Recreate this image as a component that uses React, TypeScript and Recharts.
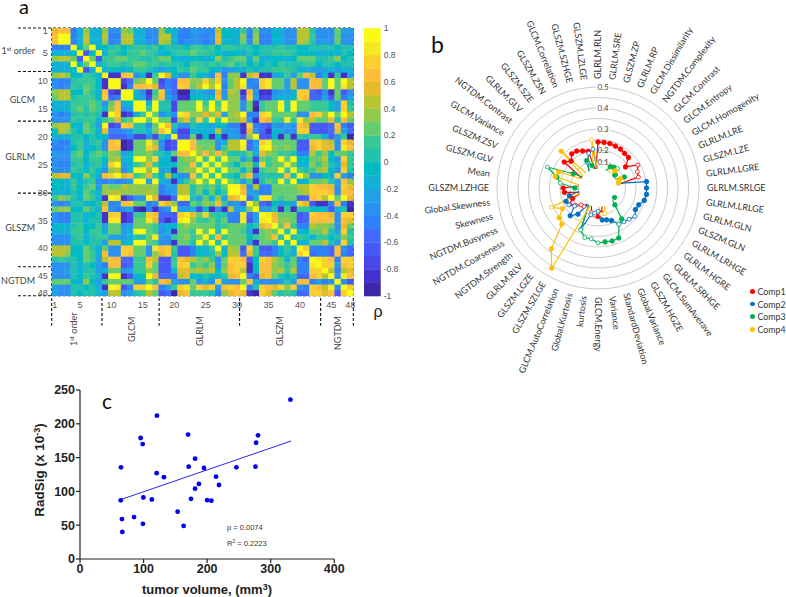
import React from 'react';
import {
  Legend,
  PolarAngleAxis,
  PolarGrid,
  PolarRadiusAxis,
  Radar,
  RadarChart,
  ReferenceLine,
  Scatter,
  ScatterChart,
  XAxis,
  YAxis,
} from 'recharts';

// panel a: upper triangle of the correlation matrix, each row starts on the diagonal.
// one character per cell, index into LEVEL_CODES (colour step of the bar, -1 to 1)
const corrRows = [
  'fgg58d88 d66dc8866 d98657666e998 b6c668866eea6 66c77',
  'jj58e88 e55ee8856 ee8556656f998 d5d559866eeb6 66c66',
  'j58e88 d56ee8866 ed8566656f888 c6d558866eda6 76c66',
  'j9cj9 9ab9abbab 9aaa9bbab9bba aa9aaabaa99aa aa9aa',
  'j39j 8ba9bbcba 89abbcbba9899 8a9aabbba9998 898a9',
  'jc3 bbccbbaab cc9889989dabc c8c889989ccca abd9a',
  'j8 abbabccbb abaa9bbababca b9a9a9baaabb9 aa9aa',
  'j 89989bba8 789bacbb98678 8a8aabbba8877 78788',
  'j11gh681b jf966b986g5dd 1eg1178b7cge5 81b17',
  'jj24cdjc 254ggddhdh6ce j56hicc7e66gg cjcje',
  'j15gghf 354hgcejej5ce i65hicc7e66gg cjcie',
  'jj861b h64007876f6ed 1g6116778hh43 61c36',
  'j972c g75119989g7dd 3h7227889hg44 73c57',
  'jj8j aa2cccjbjbjdd 6c1bccjajccbb b97ha',
  'jbj aa2cccjcjcjdd 6c0bccjajccbb b97hb',
  'jc 686ihddfdf7de j55hicccc66gh djcje',
  'j cc2dfbhbjbjdd f61gfbbibidec cfagc',
  'jga66a8979855 1h5437676gf33 34g53',
  'j7228988e776 1f6418866hh33 34f74',
  'j33c1919177 4dj3391b1babb 847b0',
  'jjgccc68ee j47hicccc33gh fe6hf',
  'jgdcd6bee i47ijdcdc33fh ff6ig',
  'jdgdgdaa ac8fdcbba55eb d9ccb',
  'jbjbjcc 7b2cbcjcj99cc e96hb',
  'jcjcb9 cd9hbccic88db da8fb',
  'jbjcc 8c1bccjbjbabd e96ha',
  'jba9 dg6aaaagajd66 98h75',
  'jcb 7b1acbjbj89cc da7gd',
  'jj f6e55cccceehg gf6hf',
  'j g7755ccccdehh hg6gg',
  'j48iicbcc34gh ejcjf',
  'jd439797hf31 15g51',
  'j77a1b1bb99 938a0',
  'jifccc34hg gf6hh',
  'jgddc34gg gg6gf',
  'jcgb55ed dc6fc',
  'jaj89cc ea7ha',
  'jaba8b b9adb',
  'j88cc ea7ha',
  'jh55 54g64',
  'j45 54g54',
  'ji hg5hh',
  'j hh7gh',
  'je5ef',
  'j6ig',
  'j63',
  'jh',
  'j',
];

const LEVEL_CODES = '0123456789abcdefghij';
const LEVEL_COLORS = [
  '#3e26a8', '#4332cb', '#4747eb', '#4758f8', '#4269fe',
  '#2f81fa', '#2b91f1', '#23a0e5', '#12b1d6', '#02bac3',
  '#24c1ae', '#37c897', '#64cd6f', '#8fca4e', '#b9c431',
  '#e6bb2d', '#febe3c', '#fccf30', '#f5e924', '#f9fb15',
];
const matrixTicks = [1, 5, 10, 15, 20, 25, 30, 35, 40, 45, 48];
const colorbarTicks = [-1, -0.8, -0.6, -0.4, -0.2, 0, 0.2, 0.4, 0.6, 0.8, 1];
const blockRows = [0.5, 8.3, 17.2, 30.1, 43.3, 48.5];
const blockCols = [0.5, 8.5, 17.6, 30.4, 43.3, 48.5];

// panel b: loadings per feature, negative = open marker, 0 = not selected
const features = [
  'GLRLM.RLN', 'GLRLM.SRE', 'GLSZM.ZP', 'GLRLM.RP', 'GLCM.Dissimilarity', 'NGTDM.Complexity',
  'GLCM.Contrast', 'GLCM.Entropy', 'GLCM.Homogenity', 'GLRLM.LRE', 'GLSZM.LZE', 'GLRLM.LGRE',
  'GLRLM.SRLGE', 'GLRLM.LRLGE', 'GLRLM.GLN', 'GLSZM.GLN', 'GLRLM.LRHGE', 'GLRLM.HGRE',
  'GLRLM.SRHGE', 'GLCM.SumAverave', 'GLSZM.HGZE', 'Global.Variance', 'StandardDeviation', 'Variance',
  'GLCM.Energy', 'kurtosis', 'Global.Kurtosis', 'GLCM.AutoCorrelation', 'GLSZM.SZLGE', 'GLSZM.LGZE',
  'GLRLM.RLV', 'NGTDM.Strength', 'NGTDM.Coarseness', 'NGTDM.Busyness', 'Skewness', 'Global.Skewness',
  'GLSZM.LZHGE', 'Mean', 'GLSZM.GLV', 'GLSZM.ZSV', 'GLCM.Variance', 'NGTDM.Contrast',
  'GLRLM.GLV', 'GLSZM.SZE', 'GLSZM.ZSN', 'GLCM.Correlation', 'GLSZM.SZHGE', 'GLSZM.LZLGE',
];
const comp1 = [
  0.238, 0.238, 0.238, 0.235, 0.233, 0.227, 0.224, 0.184, -0.238, -0.222, -0.218, 0,
  0, 0, 0, 0, 0, 0, 0, 0, 0, 0, 0, 0.14,
  0.155, -0.15, -0.14, 0, 0, -0.13, -0.133, -0.154, -0.175, 0.15, 0, 0.18,
  0.185, 0, 0, 0, 0, 0.222, 0.2, 0.224, 0.222, 0.21, 0.2, 0,
];
const comp2 = [
  0, 0, 0, 0, 0, 0, 0, -0.125, 0, 0, 0, 0.252,
  0.25, 0.252, 0.247, 0.229, 0.225, -0.241, -0.229, -0.222, -0.218, 0.187, 0.176, 0.173,
  -0.13, -0.14, -0.151, -0.23, 0, 0.176, 0.206, -0.16, -0.18, 0.184, 0.16, 0,
  0, 0, 0, 0, 0, 0, 0, 0, 0, -0.15, -0.19, -0.205,
];
const comp3 = [
  0, 0, 0, 0, 0.136, 0.143, -0.15, 0.12, 0, 0.155, 0, 0,
  0, 0, 0, 0, 0.11, 0, 0.133, 0.205, -0.218, 0.277, 0.28, 0.278,
  -0.28, -0.263, -0.264, -0.235, 0, 0, 0, 0, 0, 0, 0, 0,
  0.13, -0.2, 0.222, -0.28, 0.155, 0, 0, 0, 0, 0.16, 0.13, 0,
];
const comp4 = [
  0, 0, 0, 0, 0, -0.12, 0.135, 0, 0, 0.135, 0.12, 0,
  0, 0, 0, 0, 0, 0, 0, 0, 0, 0, -0.145, -0.145,
  0, 0, 0, 0, 0.46, 0.384, 0.263, 0.252, 0.215, -0.26, 0, 0,
  0, 0, 0.23, 0.222, 0, 0, 0.267, 0, 0, 0, 0, -0.25,
];
const radialTicks = [0.1, 0.15, 0.2, 0.25, 0.3, 0.35, 0.4, 0.45, 0.5];
const radialLabels = [0.1, 0.2, 0.3, 0.4, 0.5];
const HOLE_VALUE = 0.11;

// panel c
const volumes = [
  64.5, 64, 66, 66.6, 85, 95.4, 98.6, 99.6, 99, 113, 121, 120.6, 132, 153.6, 163, 170,
  171, 174.6, 181, 181, 187, 195, 200, 206.6, 214, 218.6, 246, 276, 277, 280, 331,
];
const radSig = [
  135.6, 86.8, 59, 40, 62, 179, 170, 91, 52, 88, 212, 127, 121, 70, 49, 184,
  136.6, 89, 104, 148.4, 111, 134.6, 87, 86.3, 121.8, 109.5, 135.6, 136.6, 172, 183, 235.7,
];
const fitVolumes = [64.5, 332];
const fitRadSig = [88, 174.5];

const matrixData: { col: number; row: number; value: number }[] = [];
corrRows.forEach((line, i) => {
  line.replace(/ /g, '').split('').forEach((ch, k) => {
    const value = LEVEL_CODES.indexOf(ch) * 0.1 - 0.95;
    matrixData.push({ col: i + k + 1, row: i + 1, value });
    if (k > 0) matrixData.push({ col: i + 1, row: i + k + 1, value });
  });
});
const colorbarData = LEVEL_COLORS.map((_, i) => ({ x: 0.5, value: i * 0.1 - 0.95 }));
const radarData = features.map((feature, i) => ({
  feature,
  comp1: Math.abs(comp1[i]) || 0.1,
  comp2: Math.abs(comp2[i]) || 0.1,
  comp3: Math.abs(comp3[i]) || 0.1,
  comp4: Math.abs(comp4[i]) || 0.1,
  hole: HOLE_VALUE,
}));
const volumeData = volumes.map((v, i) => ({ v, s: radSig[i] }));
const fitData = fitVolumes.map((v, i) => ({ v, s: fitRadSig[i] }));

const SERIES = [
  { key: 'comp1', name: 'Comp1', color: '#ff0000', signs: comp1 },
  { key: 'comp2', name: 'Comp2', color: '#0070c0', signs: comp2 },
  { key: 'comp3', name: 'Comp3', color: '#00b050', signs: comp3 },
  { key: 'comp4', name: 'Comp4', color: '#ffc000', signs: comp4 },
];

const CALIBRI = 'Lato, "Open Sans", sans-serif';
const ARIAL = '"Liberation Sans", Arial, sans-serif';
const MATRIX_W = 301.6;
const MATRIX_H = 267.7;

const levelColor = (value: number) =>
  LEVEL_COLORS[Math.max(0, Math.min(19, Math.round((value + 0.95) * 10)))];

const MatrixCell = (props: any) => {
  const w = MATRIX_W / 48;
  const h = MATRIX_H / 48;
  return (
    <rect
      x={props.cx - w / 2}
      y={props.cy - h / 2}
      width={w + 0.4}
      height={h + 0.4}
      fill={levelColor(props.payload.value)}
    />
  );
};

const ColorbarStep = (props: any) => {
  const h = MATRIX_H / 20;
  return (
    <rect x={props.cx - 8.35} y={props.cy - h / 2} width={16.7} height={h + 0.3} fill={levelColor(props.payload.value)} />
  );
};

const FeatureTick = (props: any) => {
  const { x, y, payload } = props;
  const clockwise = ((90 - payload.coordinate) % 360 + 360) % 360;
  const rightSide = clockwise <= 180;
  const rotation = rightSide ? clockwise - 90 : clockwise + 90;
  return (
    <text
      x={x}
      y={y}
      dy={3}
      transform={`rotate(${rotation} ${x} ${y})`}
      textAnchor={rightSide ? 'start' : 'end'}
      fontSize={9}
      fontFamily={CALIBRI}
      fill="#333"
    >
      {payload.value}
    </text>
  );
};

const RadialTick = (props: any) => {
  const { x, y, payload } = props;
  if (!radialLabels.includes(payload.value)) return <g />;
  const ty = payload.value === 0.1 ? y - 9 : y;
  return (
    <g>
      {payload.value > 0.2 && <rect x={x - 2} y={ty - 4} width={14} height={8} fill="#fff" />}
      <text x={x + 5} y={ty + 3} textAnchor="middle" fontSize={8} fontFamily={CALIBRI} fill="#444">
        {payload.value}
      </text>
    </g>
  );
};

const loadingDot = (signs: number[], color: string) => (props: any) => {
  const sign = signs[props.index];
  if (!sign) return <g key={props.index} />;
  return (
    <circle
      key={props.index}
      cx={props.cx}
      cy={props.cy}
      r={sign > 0 ? 2.3 : 2}
      fill={sign > 0 ? color : '#fff'}
      stroke={color}
      strokeWidth={0.8}
    />
  );
};

const CompLegend = (props: any) => (
  <div>
    {(props.payload || []).filter((entry: any) => entry.value !== 'hole' && entry.type !== 'none').map((entry: any) => (
      <div key={entry.value} style={{ height: 12.7, display: 'flex', alignItems: 'center', fontFamily: CALIBRI, fontSize: 8.8, color: '#333' }}>
        <span style={{ width: 4.5, height: 4.5, borderRadius: 3, background: entry.color, marginRight: 3 }} />
        {entry.value}
      </div>
    ))}
  </div>
);

const matrixLabel = { fontSize: 9, fontFamily: CALIBRI, fill: '#444' };

export default function App() {
  return (
    <div style={{ position: 'absolute', left: 0, top: 0, width: 786, height: 597, background: '#fff', overflow: 'hidden' }}>
      <div style={{ position: 'absolute', left: 0, top: 0 }}>
        <ScatterChart width={400} height={340} margin={{ top: 28, left: 0, right: 46.7, bottom: 14.3 }}>
          <XAxis
            type="number"
            dataKey="col"
            domain={[0.5, 48.5]}
            ticks={matrixTicks}
            interval={0}
            height={30}
            axisLine={false}
            tickLine={false}
            tickSize={0}
            tickMargin={6}
            tick={{ fontSize: 9, fontFamily: ARIAL, fill: '#555' }}
          />
          <YAxis
            type="number"
            dataKey="row"
            reversed
            domain={[0.5, 48.5]}
            ticks={matrixTicks}
            interval={0}
            width={51.7}
            axisLine={false}
            tickLine={false}
            tickSize={0}
            tickMargin={4}
            tick={{ fontSize: 9, fontFamily: ARIAL, fill: '#555' }}
          />
          <Scatter data={matrixData} shape={MatrixCell} isAnimationActive={false} />
          {blockRows.map((y) => (
            <ReferenceLine
              key={`row-${y}`}
              segment={[{ x: -4.87, y }, { x: 48.5, y }]}
              ifOverflow="visible"
              stroke="#111"
              strokeWidth={1.1}
              strokeDasharray="3 2"
            />
          ))}
          {blockCols.map((x) => (
            <ReferenceLine
              key={`col-${x}`}
              segment={[{ x, y: 0.5 }, { x, y: 53.9 }]}
              ifOverflow="visible"
              stroke="#111"
              strokeWidth={1.1}
              strokeDasharray="3 2"
            />
          ))}
        </ScatterChart>
      </div>

      <div style={{ position: 'absolute', left: 355, top: 0 }}>
        <ScatterChart width={60} height={340} margin={{ top: 28.2, left: 9, right: 0, bottom: 44 }}>
          <XAxis type="number" dataKey="x" domain={[0, 1]} hide />
          <YAxis
            type="number"
            dataKey="value"
            orientation="right"
            domain={[-1, 1]}
            ticks={colorbarTicks}
            interval={0}
            width={34.3}
            axisLine={false}
            tickLine={false}
            tickSize={0}
            tickMargin={3}
            tick={{ fontSize: 8.5, fontFamily: ARIAL, fill: '#555' }}
          />
          <Scatter data={colorbarData} shape={ColorbarStep} isAnimationActive={false} />
        </ScatterChart>
      </div>

      <div style={{ position: 'absolute', left: 410, top: 0 }}>
        <RadarChart
          width={376}
          height={400}
          cx={188}
          cy={188}
          innerRadius={17}
          outerRadius={101}
          data={radarData}
          margin={{ top: 0, left: 0, right: 0, bottom: 0 }}
        >
          <PolarGrid gridType="circle" radialLines={false} stroke="#c4c4c4" strokeWidth={0.9} />
          <PolarAngleAxis dataKey="feature" axisLine={false} tickLine={false} tick={FeatureTick} />
          <PolarRadiusAxis
            angle={90}
            domain={[0.1, 0.5]}
            allowDataOverflow
            allowDecimals
            ticks={radialTicks}
            axisLine={false}
            tickLine={false}
            tick={RadialTick}
          />
          {SERIES.map((s) => (
            <Radar
              key={s.key}
              name={s.name}
              dataKey={s.key}
              stroke={s.color}
              strokeWidth={1.2}
              fill="none"
              fillOpacity={0}
              dot={loadingDot(s.signs, s.color)}
              isAnimationActive={false}
            />
          ))}
          <Radar dataKey="hole" stroke="none" fill="#fff" fillOpacity={1} dot={false} legendType="none" isAnimationActive={false} />
          <Legend
            layout="vertical"
            align="right"
            verticalAlign="top"
            content={CompLegend}
            wrapperStyle={{ left: 340, top: 285, width: 36, right: 'auto' }}
          />
        </RadarChart>
      </div>

      <div style={{ position: 'absolute', left: 0, top: 370 }}>
        <ScatterChart width={360} height={227} margin={{ top: 20, left: 0, right: 25.7, bottom: 0 }}>
          <XAxis
            type="number"
            dataKey="v"
            domain={[0, 400]}
            ticks={[0, 100, 200, 300, 400]}
            height={38}
            stroke="#222"
            strokeWidth={1.2}
            tickSize={4}
            tickMargin={1}
            tick={{ fontSize: 12.5, fontWeight: 700, fontFamily: ARIAL, fill: '#222' }}
          />
          <YAxis
            type="number"
            dataKey="s"
            domain={[0, 250]}
            ticks={[0, 50, 100, 150, 200, 250]}
            width={80}
            stroke="#222"
            strokeWidth={1.2}
            tickSize={4}
            tickMargin={1}
            tick={{ fontSize: 12.5, fontWeight: 700, fontFamily: ARIAL, fill: '#222' }}
          />
          <Scatter data={fitData} line={{ stroke: '#2a2ae8', strokeWidth: 1 }} shape={() => <g />} isAnimationActive={false} />
          <Scatter data={volumeData} fill="#0000f0" shape={(p: any) => <circle cx={p.cx} cy={p.cy} r={2.4} fill="#0000f0" />} isAnimationActive={false} />
        </ScatterChart>
      </div>

      <svg width={786} height={597} style={{ position: 'absolute', left: 0, top: 0, pointerEvents: 'none' }}>
        <text x={19} y={14} fontSize={20} fontFamily={CALIBRI} fill="#111">a</text>
        <text x={431} y={53} fontSize={23} fontFamily={CALIBRI} fill="#111">b</text>
        <text x={102} y={409} fontSize={21} fontFamily={CALIBRI} fill="#111">c</text>

        <text x={35} y={53.5} textAnchor="end" {...matrixLabel}>
          1<tspan fontSize={6} dy={-3}>st</tspan><tspan dy={3}> order</tspan>
        </text>
        <text x={35} y={102.5} textAnchor="end" {...matrixLabel}>GLCM</text>
        <text x={35} y={160} textAnchor="end" {...matrixLabel}>GLRLM</text>
        <text x={35} y={231} textAnchor="end" {...matrixLabel}>GLSZM</text>
        <text x={35} y={284} textAnchor="end" {...matrixLabel}>NGTDM</text>

        <text transform="translate(77 346) rotate(-90)" {...matrixLabel}>
          1<tspan fontSize={6} dy={-3}>st</tspan><tspan dy={3}> order</tspan>
        </text>
        <text transform="translate(135 342) rotate(-90)" {...matrixLabel}>GLCM</text>
        <text transform="translate(203 346) rotate(-90)" {...matrixLabel}>GLRLM</text>
        <text transform="translate(283 346) rotate(-90)" {...matrixLabel}>GLSZM</text>
        <text transform="translate(341 350) rotate(-90)" {...matrixLabel}>NGTDM</text>
        <text x={378} y={317} textAnchor="middle" fontSize={16} fontFamily={ARIAL} fill="#222">ρ</text>

        <text x={227} y={529.5} fontSize={7.5} fontFamily={ARIAL} fill="#333">p = 0.0074</text>
        <text x={227} y={545.5} fontSize={7.5} fontFamily={ARIAL} fill="#333">
          R<tspan fontSize={5} dy={-3}>2</tspan><tspan dy={3}> = 0.2223</tspan>
        </text>

        <text transform="translate(44 470) rotate(-90)" textAnchor="middle" fontSize={13.5} fontWeight={700} fontFamily={ARIAL} fill="#222">
          RadSig (x 10<tspan fontSize={9} dy={-4}>-3</tspan><tspan dy={4}>)</tspan>
        </text>
        <text x={207} y={594} textAnchor="middle" fontSize={13} fontWeight={700} fontFamily={ARIAL} fill="#222">
          tumor volume, (mm<tspan fontSize={9} dy={-4}>3</tspan><tspan dy={4}>)</tspan>
        </text>
      </svg>
    </div>
  );
}
